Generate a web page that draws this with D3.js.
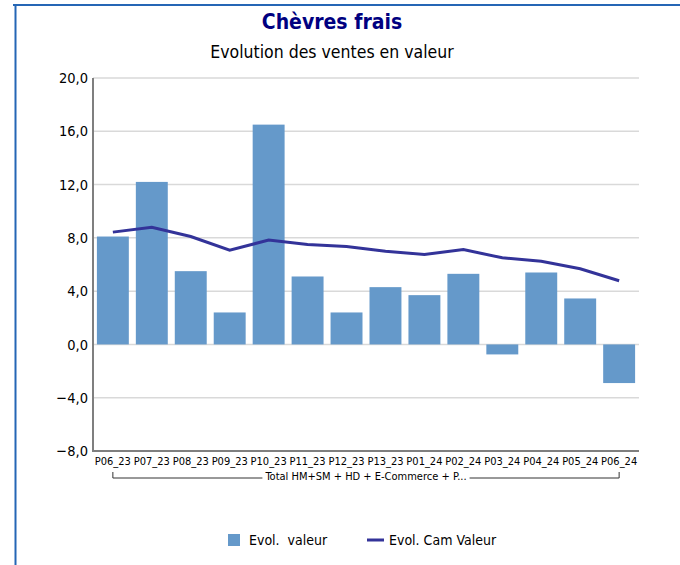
<!DOCTYPE html>
<html>
<head>
<meta charset="utf-8">
<style>
  body { margin: 0; background: #fff; }
  text { font-family: "DejaVu Sans Condensed", "DejaVu Sans", sans-serif; fill: #000; }
  .grid line { stroke: #d9d9d9; stroke-width: 1.5; }
</style>
</head>
<body>
<svg id="chart" width="680" height="565"></svg>
<script src="https://d3js.org/d3.v7.min.js"></script>
<script>
var periods = ["P06_23","P07_23","P08_23","P09_23","P10_23","P11_23","P12_23","P13_23","P01_24","P02_24","P03_24","P04_24","P05_24","P06_24"];
var evolValeur = [8.1, 12.2, 5.5, 2.4, 16.5, 5.1, 2.4, 4.3, 3.7, 5.3, -0.75, 5.4, 3.45, -2.9];
var evolCam = [8.43, 8.8, 8.1, 7.08, 7.83, 7.5, 7.35, 7.0, 6.76, 7.12, 6.5, 6.25, 5.68, 4.78];
var yTicks = [-8, -4, 0, 4, 8, 12, 16, 20];
var groupLabel = "Total HM+SM + HD + E-Commerce + P...";

var svg = d3.select("#chart");

// cadre bleu (haut + gauche)
svg.append("line").attr("x1", 13).attr("x2", 680).attr("y1", 5).attr("y2", 5)
  .attr("stroke", "#2566b5").attr("stroke-width", 2);
svg.append("line").attr("x1", 15.5).attr("x2", 15.5).attr("y1", 4).attr("y2", 565)
  .attr("stroke", "#2566b5").attr("stroke-width", 2);

svg.append("text").attr("x", 332).attr("y", 29).attr("text-anchor", "middle")
  .style("font-size", "21px").style("font-weight", "bold").style("fill", "#000080")
  .text("Chèvres frais");
svg.append("text").attr("x", 332).attr("y", 58).attr("text-anchor", "middle")
  .style("font-size", "17.5px").text("Evolution des ventes en valeur");

var x = d3.scaleBand().domain(periods).range([93, 639]).paddingInner(0.18).paddingOuter(0.1);
var y = d3.scaleLinear().domain([-8, 20]).range([451, 78]);

var grid = svg.append("g").attr("class", "grid");
grid.selectAll("line").data(yTicks).enter().append("line")
  .attr("x1", 93).attr("x2", 639)
  .attr("y1", function(d) { return y(d); }).attr("y2", function(d) { return y(d); });

var yAxis = svg.append("g").attr("transform", "translate(93,0)")
  .call(d3.axisLeft(y).tickValues(yTicks).tickSize(0).tickPadding(5)
    .tickFormat(function(d) { return d3.format(".1f")(d).replace(".", ","); }));
yAxis.select(".domain").remove();
yAxis.selectAll("text").style("font-size", "14.5px");

svg.append("g").selectAll("rect").data(periods).enter().append("rect")
  .attr("x", function(d) { return x(d); })
  .attr("width", x.bandwidth())
  .attr("y", function(d, i) { return y(Math.max(0, evolValeur[i])); })
  .attr("height", function(d, i) { return Math.abs(y(evolValeur[i]) - y(0)); })
  .attr("fill", "#6599ca");

var line = d3.line()
  .x(function(d, i) { return x(periods[i]) + x.bandwidth() / 2; })
  .y(function(d) { return y(d); });
svg.append("path").datum(evolCam).attr("d", line)
  .attr("fill", "none").attr("stroke", "#333399").attr("stroke-width", 3);

// axes
svg.append("line").attr("x1", 93).attr("x2", 93).attr("y1", 78).attr("y2", 452)
  .attr("stroke", "#7f7f7f").attr("stroke-width", 2);
svg.append("line").attr("x1", 92).attr("x2", 639).attr("y1", 451).attr("y2", 451)
  .attr("stroke", "#7f7f7f").attr("stroke-width", 2);

var xAxis = svg.append("g").attr("transform", "translate(0,451)")
  .call(d3.axisBottom(x).tickSize(0).tickPadding(6));
xAxis.select(".domain").remove();
xAxis.selectAll("text").style("font-size", "11px");

// accolade de groupe
var gx1 = x(periods[0]) + x.bandwidth() / 2, gx2 = x(periods[periods.length - 1]) + x.bandwidth() / 2;
var gmid = (gx1 + gx2) / 2;
var label = svg.append("text").attr("x", gmid).attr("y", 480).attr("text-anchor", "middle")
  .style("font-size", "11px").text(groupLabel);
var lw = label.node().getComputedTextLength();
svg.append("path")
  .attr("d", "M" + gx1 + ",472V478H" + (gmid - lw / 2 - 3) + "M" + (gmid + lw / 2 + 3) + ",478H" + gx2 + "V472")
  .attr("fill", "none").attr("stroke", "#333").attr("stroke-width", 1);

// légende
var leg = svg.append("g");
leg.append("rect").attr("x", 228).attr("y", 534).attr("width", 12).attr("height", 12).attr("fill", "#6599ca");
leg.append("text").attr("x", 249).attr("y", 545).style("font-size", "14px").style("white-space", "pre")
  .text("Evol.  valeur");
leg.append("line").attr("x1", 367).attr("x2", 384).attr("y1", 540).attr("y2", 540)
  .attr("stroke", "#333399").attr("stroke-width", 3);
leg.append("text").attr("x", 389).attr("y", 545).style("font-size", "14px").text("Evol. Cam Valeur");
</script>
</body>
</html>
